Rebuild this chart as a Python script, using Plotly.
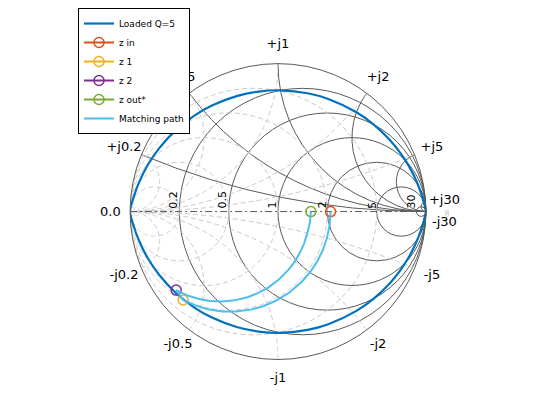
import numpy as np
import plotly.graph_objects as go

# normalized impedances
q_loaded = 5
q_r = [0, 0.01, 0.02, 0.035, 0.05, 0.07, 0.09, 0.11, 0.14, 0.17, 0.2, 0.25, 0.3,
       0.4, 0.5, 0.65, 0.85, 1.1, 1.5, 2.2, 3.5, 6, 12, 30, 1e4]

z_in = [2.1 + 0j]
z_1 = [0.076 - 0.392j]
z_2 = [0.078 - 0.339j]
z_out = [1.57 + 0j]

# matching path: z in -> z 1 -> z 2 -> z out*
path_r = [2.1, 2.012, 1.785, 1.503, 1.231, 0.999, 0.811, 0.603, 0.459, 0.358,
          0.286, 0.218, 0.171, 0.130, 0.103, 0.076,
          0.078, 0.104, 0.134, 0.168, 0.217, 0.271, 0.348, 0.425, 0.526,
          0.659, 0.831, 0.968, 1.120, 1.275, 1.414, 1.530, 1.57]
path_x = [0, -0.423, -0.750, -0.948, -1.035, -1.049, -1.023, -0.950, -0.868, -0.790,
          -0.720, -0.640, -0.574, -0.507, -0.453, -0.392,
          -0.339, -0.389, -0.435, -0.482, -0.538, -0.589, -0.647, -0.691, -0.734,
          -0.766, -0.773, -0.751, -0.694, -0.593, -0.439, -0.235, 0]

grid_vals = [0.2, 0.5, 1, 2, 5, 30]
real_labels = ['0.2', '0.5', '1', '2', '5', '30']
imag_labels = ['j0.2', 'j0.5', 'j1', 'j2', 'j5', 'j30']

font = 'DejaVu Sans'
grid_dark = '#5a5a5a'
grid_light = '#c8c8c8'

W, H = 560, 420
page = 8                        # the html body margin
cx, cy, rad = 278 - page, 210 - page, 149   # chart circle, figure pixels

fig = go.Figure()

# admittance grid (dashed, light)
phi = np.linspace(0, 2 * np.pi, 241)
for g in grid_vals:
    gam = -g / (1 + g) + np.exp(1j * phi) / (1 + g)
    z = (1 + gam) / (1 - gam + 1e-12)
    fig.add_trace(go.Scattersmith(real=z.real, imag=z.imag, mode='lines',
                                  line=dict(color=grid_light, width=1, dash='5px,3px'),
                                  showlegend=False, hoverinfo='skip'))
gs = np.concatenate([[0], np.geomspace(1e-3, 1e3, 300)])
for b in grid_vals + [-v for v in grid_vals]:
    z = 1 / (gs + 1j * b)
    fig.add_trace(go.Scattersmith(real=z.real, imag=z.imag, mode='lines',
                                  line=dict(color=grid_light, width=1, dash='5px,3px'),
                                  showlegend=False, hoverinfo='skip'))

# real axis, dash-dot
fig.add_trace(go.Scattersmith(real=[0, 1e6], imag=[0, 0], mode='lines',
                              line=dict(color=grid_dark, width=1, dash='7px,3px,2px,3px'),
                              showlegend=False, hoverinfo='skip'))

# reactance labels just outside the rim (drawn as a trace so the legend hides them)
lab_k = 168 / rad
lab_t, lab_g = [], []
for v, t in zip(grid_vals, imag_labels):
    ang = np.pi - 2 * np.arctan(v)
    for sgn, pre in [(1, '+'), (-1, '-')]:
        lab_t.append(pre + t)
        lab_g.append(lab_k * np.exp(1j * sgn * ang))
lab_g = np.array(lab_g)
lab_z = (1 + lab_g) / (1 - lab_g)
fig.add_trace(go.Scattersmith(real=lab_z.real, imag=lab_z.imag, mode='text',
                              text=lab_t, textposition='middle center',
                              textfont=dict(family=font, size=13, color='black'),
                              cliponaxis=False, showlegend=False, hoverinfo='skip'))

# loaded Q contour
q_real = q_r + q_r[::-1]
q_imag = [q_loaded * r for r in q_r] + [-q_loaded * r for r in q_r[::-1]]
fig.add_trace(go.Scattersmith(real=q_real, imag=q_imag, mode='lines',
                              line=dict(color='#0072BD', width=2.2, shape='spline'),
                              name='Loaded Q=5'))

markers = [('z in', z_in, '#D95319'), ('z 1', z_1, '#EDB120'),
           ('z 2', z_2, '#7E2F8E'), ('z out*', z_out, '#77AC30')]
for name, zz, col in markers:
    fig.add_trace(go.Scattersmith(real=[v.real for v in zz], imag=[v.imag for v in zz],
                                  mode='lines+markers', name=name,
                                  line=dict(color=col, width=2),
                                  marker=dict(symbol='circle-open', size=10, color=col,
                                              line=dict(width=1.5, color=col))))

fig.add_trace(go.Scattersmith(real=path_r, imag=path_x, mode='lines',
                              line=dict(color='#4DBEEE', width=2),
                              name='Matching path'))


def paper(px, py):
    return px / W, 1 - py / H


annotations = []
# resistance labels along the real axis, rotated
for v, t in zip(grid_vals, real_labels):
    gam = (v - 1) / (v + 1)
    x, y = paper(cx + rad * gam - 5.5, cy - 1)
    annotations.append(dict(x=x, y=y, xref='paper', yref='paper', text=t,
                            showarrow=False, textangle=-90, xanchor='center',
                            yanchor='bottom', font=dict(size=11)))
x, y = paper(cx - 168, cy)
annotations.append(dict(x=x, y=y, xref='paper', yref='paper', text='0.0',
                        showarrow=False, xanchor='center', yanchor='middle',
                        font=dict(size=13)))
x, y = paper(cx + 169, cy + 2)
annotations.append(dict(x=x, y=y, xref='paper', yref='paper', text='\u221e',
                        showarrow=False, textangle=-90, xanchor='center', yanchor='middle',
                        font=dict(size=10, color='#b4b4b4')))

fig.update_layout(
    width=W, height=H,
    margin=dict(l=0, r=0, t=0, b=0),
    paper_bgcolor='white',
    font=dict(family=font, size=13, color='black'),
    smith=dict(
        domain=dict(x=[(cx - rad) / W, (cx + rad) / W],
                    y=[(H - cy - rad) / H, (H - cy + rad) / H]),
        bgcolor='white',
        realaxis=dict(tickvals=grid_vals, gridcolor=grid_dark, linecolor=grid_dark,
                      showline=False, showticklabels=False, ticks=''),
        imaginaryaxis=dict(tickvals=grid_vals, gridcolor=grid_dark, linecolor=grid_dark,
                           showticklabels=False, ticks=''),
    ),
    annotations=annotations,
    legend=dict(x=(78 - page) / W, y=1 - (5 - page) / H, xanchor='left', yanchor='top',
                bgcolor='white', bordercolor='black', borderwidth=1,
                font=dict(family=font, size=9), tracegroupgap=0),
)

fig.write_html('out.html')
